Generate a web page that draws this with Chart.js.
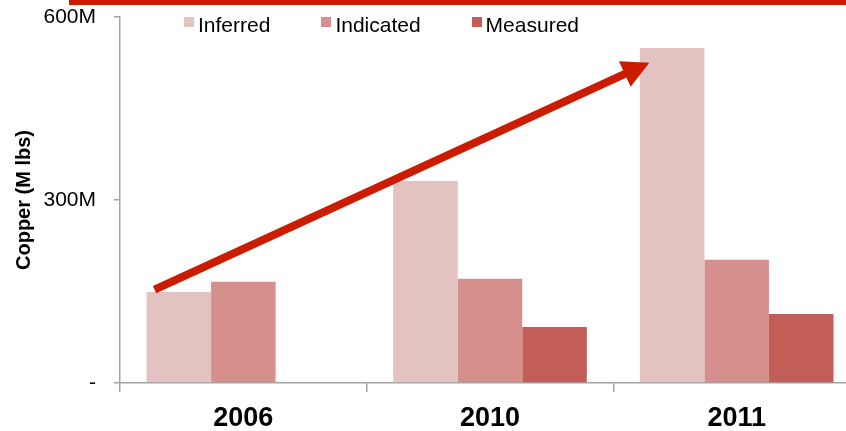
<!DOCTYPE html>
<html>
<head>
<meta charset="utf-8">
<script src="https://cdn.jsdelivr.net/npm/chart.js@4"></script>
<style>
  html, body { margin: 0; padding: 0; background: #fff; overflow: hidden; }
  .wrap { position: relative; width: 860px; height: 431px; }
  .topBar { position: absolute; left: 69px; right: 0; top: 0; height: 5px; background: #cc1c00; }
  .legend { position: absolute; left: 184px; top: 14px; display: flex; gap: 51px;
            font: 21px 'Liberation Sans', Arial, sans-serif; line-height: 21px; color: #000; }
  .legend .item { display: flex; align-items: flex-start; }
  .legend .box { width: 10px; height: 10px; margin-top: 3px; margin-right: 4px; }
</style>
</head>
<body>
<div class="wrap">
  <canvas id="copperChart"></canvas>
  <div class="topBar"></div>
  <div class="legend" id="legend"></div>
</div>
<script>
// ========================================
// COBRE - RECURSOS POR AÑO
// ========================================

const years = ['2006', '2010', '2011'];
const inferred = [149, 331, 549];
const indicated = [166, 171, 202];
const measured = [null, 92, 113];
const yTicks = [0, 300, 600];

const seriesNames = ['Inferred', 'Indicated', 'Measured'];
const seriesColors = ['#e3c3c2', '#d5908d', '#c25e57'];

// flecha de tendencia, en coordenadas de datos (x = indice de categoria, y = M lbs)
const arrowFrom = [-0.36, 153];
const arrowTo = [1.646, 525];
const arrowColor = '#cc1c00';

const axisGray = '#a3a3a3';
const fontFamily = "'Liberation Sans', Arial, Helvetica, sans-serif";

const arrowPlugin = {
  id: 'trendArrow',
  afterDatasetsDraw(chart) {
    const { ctx, scales: { x, y } } = chart;
    const x0 = x.getPixelForValue(arrowFrom[0]);
    const y0 = y.getPixelForValue(arrowFrom[1]);
    const x1 = x.getPixelForValue(arrowTo[0]);
    const y1 = y.getPixelForValue(arrowTo[1]);
    const ang = Math.atan2(y1 - y0, x1 - x0);
    const headLen = 27, headHalf = 14;
    const bx = x1 - headLen * Math.cos(ang);
    const by = y1 - headLen * Math.sin(ang);

    ctx.save();
    ctx.strokeStyle = arrowColor;
    ctx.fillStyle = arrowColor;
    ctx.lineWidth = 8;
    ctx.beginPath();
    ctx.moveTo(x0, y0);
    ctx.lineTo(bx + 2 * Math.cos(ang), by + 2 * Math.sin(ang));
    ctx.stroke();

    ctx.beginPath();
    ctx.moveTo(x1, y1);
    ctx.lineTo(bx + headHalf * Math.sin(ang), by - headHalf * Math.cos(ang));
    ctx.lineTo(bx - headHalf * Math.sin(ang), by + headHalf * Math.cos(ang));
    ctx.closePath();
    ctx.fill();
    ctx.restore();
  }
};

const seriesData = [inferred, indicated, measured];

new Chart(document.getElementById('copperChart'), {
  type: 'bar',
  data: {
    labels: years,
    datasets: seriesNames.map((name, i) => ({
      label: name,
      data: seriesData[i],
      backgroundColor: seriesColors[i],
      borderWidth: 0,
      categoryPercentage: 0.785,
      barPercentage: 1
    }))
  },
  options: {
    responsive: true,
    maintainAspectRatio: false,
    animation: false,
    layout: { padding: { top: 17, left: 0, right: 0, bottom: 0 } },
    plugins: {
      legend: { display: false },
      tooltip: { enabled: false }
    },
    scales: {
      x: {
        grid: { drawOnChartArea: false, drawTicks: true, tickLength: 9, color: axisGray, lineWidth: 1.5, offset: true },
        border: { color: axisGray, width: 1.5 },
        ticks: { color: '#000', font: { family: fontFamily, size: 27, weight: 'bold' }, padding: 10 },
        afterFit: (s) => { s.height = 48; s.paddingLeft = 0; s.paddingRight = 0; }
      },
      y: {
        min: 0,
        max: 600,
        afterBuildTicks: (s) => { s.ticks = yTicks.map(v => ({ value: v })); },
        grid: { drawOnChartArea: false, drawTicks: true, tickLength: 6, color: axisGray, lineWidth: 1.5 },
        border: { color: axisGray, width: 1.5 },
        ticks: {
          color: '#000',
          font: { family: fontFamily, size: 21 },
          padding: 18,
          callback: (v) => v === 0 ? '-' : `${v}M`
        },
        title: {
          display: true,
          text: 'Copper (M lbs)',
          color: '#000',
          font: { family: fontFamily, size: 20, weight: 'bold' },
          padding: { top: 12, bottom: 0 }
        },
        afterFit: (s) => { s.width = 120; s.paddingTop = 0; s.paddingBottom = 0; }
      }
    }
  },
  plugins: [arrowPlugin]
});

// leyenda
document.getElementById('legend').innerHTML = seriesNames.map((name, i) => `
  <div class="item"><span class="box" style="background:${seriesColors[i]}"></span><span>${name}</span></div>
`).join('');
</script>
</body>
</html>
